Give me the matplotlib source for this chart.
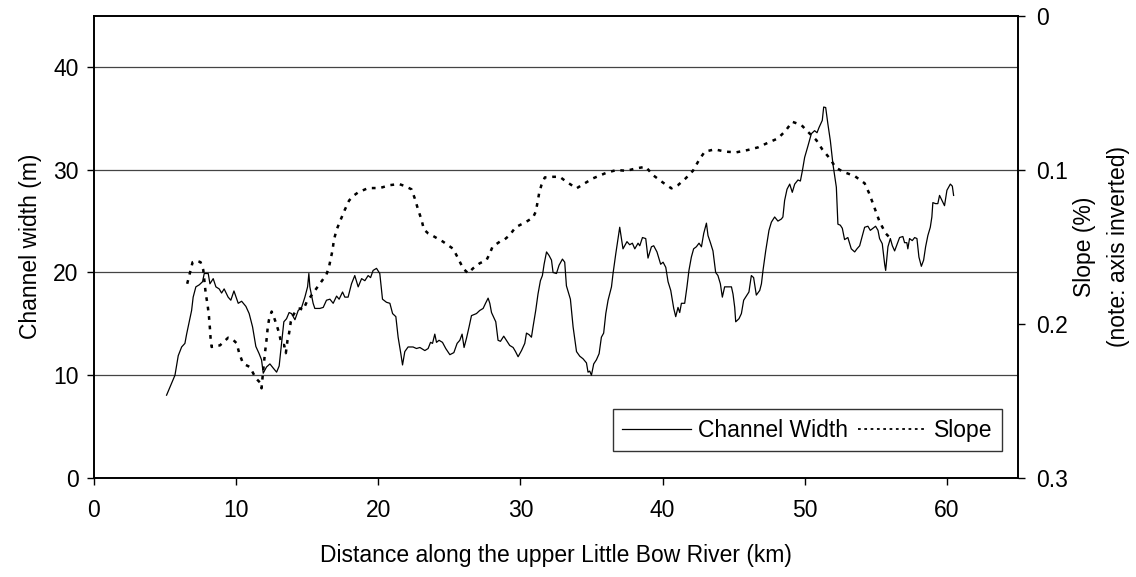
import matplotlib
matplotlib.use("Agg")
import matplotlib.pyplot as plt
from matplotlib.lines import Line2D

plt.rcParams['font.family'] = ['Liberation Sans', 'DejaVu Sans']

# channel width (m) along the river (km)
width_km = [5.11, 5.46, 5.70, 5.93, 6.17, 6.40, 6.52, 6.87, 6.98, 7.17, 7.41, 7.64, 7.76, 8.04,
            8.16, 8.39, 8.58, 8.81, 8.98, 9.16, 9.44, 9.63, 9.85, 10.15, 10.39, 10.69, 10.92,
            11.16, 11.39, 11.62, 11.79, 11.91, 12.14, 12.38, 12.61, 12.85, 13.03, 13.20, 13.36,
            13.55, 13.73, 13.90, 14.14, 14.37, 14.61, 14.84, 15.03, 15.12, 15.19, 15.42, 15.54,
            15.89, 16.13, 16.36, 16.60, 16.83, 17.07, 17.25, 17.49, 17.65, 17.88, 18.12, 18.35,
            18.59, 18.83, 19.06, 19.29, 19.46, 19.64, 19.88, 20.11, 20.30, 20.58, 20.82, 21.01,
            21.24, 21.40, 21.59, 21.71, 21.87, 22.10, 22.45, 22.69, 22.93, 23.28, 23.51, 23.68,
            23.82, 23.98, 24.10, 24.28, 24.52, 24.75, 25.04, 25.32, 25.55, 25.74, 25.90, 26.04,
            26.21, 26.39, 26.56, 26.91, 27.14, 27.38, 27.55, 27.73, 27.85, 27.97, 28.27, 28.43,
            28.60, 28.83, 29.02, 29.25, 29.49, 29.66, 29.84, 30.08, 30.31, 30.43, 30.61, 30.78,
            30.89, 31.08, 31.24, 31.41, 31.55, 31.67, 31.84, 32.02, 32.19, 32.30, 32.54, 32.72,
            32.96, 33.12, 33.24, 33.52, 33.71, 33.95, 34.18, 34.41, 34.65, 34.76, 34.88, 35.00,
            35.16, 35.35, 35.54, 35.70, 35.86, 36.01, 36.17, 36.41, 36.52, 36.71, 36.99, 37.22,
            37.50, 37.69, 37.88, 38.05, 38.28, 38.40, 38.59, 38.82, 38.98, 39.22, 39.38, 39.61,
            39.87, 40.04, 40.23, 40.39, 40.58, 40.79, 40.93, 41.09, 41.21, 41.33, 41.56, 41.72,
            41.86, 42.03, 42.19, 42.38, 42.57, 42.74, 42.90, 43.09, 43.20, 43.37, 43.55, 43.74,
            43.90, 44.07, 44.21, 44.37, 44.61, 44.85, 44.96, 45.08, 45.15, 45.38, 45.55, 45.71,
            45.94, 46.08, 46.25, 46.41, 46.60, 46.84, 46.96, 47.07, 47.26, 47.49, 47.66, 47.89,
            48.12, 48.36, 48.47, 48.59, 48.76, 48.95, 49.13, 49.30, 49.53, 49.70, 49.84, 50.00,
            50.23, 50.47, 50.70, 50.87, 51.01, 51.24, 51.34, 51.48, 51.64, 51.81, 51.99, 52.23,
            52.34, 52.51, 52.65, 52.81, 53.04, 53.28, 53.52, 53.68, 53.87, 54.06, 54.22, 54.45,
            54.62, 54.80, 54.99, 55.16, 55.27, 55.46, 55.63, 55.70, 55.86, 56.03, 56.17, 56.33,
            56.49, 56.68, 56.91, 57.03, 57.19, 57.26, 57.38, 57.57, 57.74, 57.90, 58.04, 58.21,
            58.37, 58.51, 58.67, 58.84, 58.95, 59.02, 59.21, 59.37, 59.49, 59.73, 59.84, 60.01,
            60.25, 60.39, 60.48]
width_m = [8.06, 9.2, 10.0, 11.9, 12.75, 13.1, 14.0, 16.3, 17.6, 18.6, 18.8, 19.1, 19.9, 19.9,
           18.9, 19.4, 18.6, 18.4, 18.0, 18.4, 17.6, 17.3, 18.2, 17.0, 17.2, 16.7, 16.0,
           14.7, 12.8, 12.1, 11.5, 10.2, 10.8, 11.1, 10.7, 10.3, 10.9, 13.1, 15.2,
           15.5, 16.1, 16.0, 15.4, 16.3, 16.6, 17.6, 18.6, 19.9, 18.6, 17.0, 16.5,
           16.5, 16.6, 17.3, 17.4, 17.0, 17.7, 17.4, 18.1, 17.6, 17.6, 18.9, 19.7,
           18.6, 19.4, 19.2, 19.7, 19.5, 20.2, 20.4, 19.9, 17.4, 17.1, 17.0, 16.0,
           15.7, 13.7, 12.1, 11.0, 12.3, 12.75, 12.75, 12.6, 12.7, 12.4, 12.6, 13.2,
           13.1, 14.0, 13.2, 13.4, 13.2, 12.6, 12.0, 12.2, 13.1, 13.4, 14.0, 12.7,
           13.6, 14.7, 15.8, 16.0, 16.3, 16.5, 17.0, 17.5, 17.0, 16.1, 15.2, 13.4,
           13.3, 13.8, 13.4, 12.9, 12.7, 12.3, 11.8, 12.4, 13.1, 14.1, 13.95, 13.7,
           14.7, 16.3, 17.9, 19.2, 19.7, 20.8, 22.0, 21.65, 21.2, 20.0, 19.9, 20.7,
           21.3, 21.0, 18.7, 17.4, 14.7, 12.3, 11.85, 11.6, 11.2, 10.3, 10.4, 10.0,
           11.1, 11.5, 12.1, 13.7, 14.1, 16.0, 17.3, 18.6, 19.9, 21.8, 24.4, 22.3,
           23.0, 22.7, 22.85, 22.3, 22.85, 22.6, 23.4, 23.3, 21.4, 22.5, 22.6, 22.0,
           20.8, 21.0, 20.5, 19.1, 18.25, 16.5, 15.7, 16.6, 16.1, 17.0, 17.0, 18.6,
           20.2, 21.5, 22.3, 22.5, 22.85, 22.5, 23.8, 24.8, 23.6, 22.9, 22.1, 20.0,
           19.7, 18.9, 17.6, 18.6, 18.6, 18.6, 17.9, 16.6, 15.2, 15.5, 16.0, 17.3,
           17.8, 18.1, 19.7, 19.5, 17.8, 18.25, 18.9, 20.2, 22.1, 24.1, 24.9, 25.4,
           25.0, 25.2, 25.4, 27.0, 28.1, 28.6, 27.8, 28.6, 29.0, 28.9, 29.9, 31.2,
           32.3, 33.5, 33.8, 33.6, 34.1, 34.8, 36.1, 36.05, 34.4, 32.8, 30.55, 28.3,
           24.7, 24.6, 24.3, 23.2, 23.4, 22.3, 22.0, 22.3, 22.6, 23.6, 24.4, 24.5,
           24.1, 24.3, 24.5, 24.1, 23.3, 22.8, 20.8, 20.2, 22.5, 23.3, 22.6, 22.1,
           22.7, 23.4, 23.5, 22.9, 22.9, 22.3, 23.3, 23.1, 23.4, 23.3, 21.5, 20.6,
           21.2, 22.5, 23.6, 24.4, 25.4, 26.8, 26.7, 26.7, 27.5, 26.8, 26.5, 28.0,
           28.6, 28.4, 27.5]

# slope (%) along the river (km)
slope_km = [6.56, 6.75, 6.94, 7.22, 7.50, 7.69, 7.86, 8.00, 8.09, 8.16, 8.21, 8.28, 8.58, 8.86,
            9.14, 9.44, 9.75, 10.04, 10.22, 10.46, 10.69, 10.97, 11.39, 11.74, 11.79, 11.91,
            12.03, 12.14, 12.22, 12.31, 12.50, 12.61, 12.80, 13.03, 13.13, 13.27, 13.38, 13.50,
            13.62, 13.73, 13.85, 14.02, 14.25, 14.49, 14.72, 14.96, 15.42, 15.89, 16.36, 16.55,
            16.79, 16.88, 17.07, 17.35, 17.65, 17.95, 18.24, 18.59, 19.29, 20.11, 20.82, 21.47,
            21.87, 22.34, 22.57, 22.81, 23.05, 23.21, 23.51, 23.86, 24.56, 25.27, 25.62, 25.97,
            26.32, 26.67, 27.14, 27.62, 27.85, 28.04, 28.55, 28.90, 29.25, 29.61, 29.84, 30.43,
            30.89, 31.08, 31.17, 31.32, 31.48, 31.72, 32.30, 32.77, 33.24, 33.95, 34.53, 35.11,
            36.05, 36.76, 37.46, 38.16, 38.82, 38.98, 39.33, 40.04, 40.63, 41.09, 41.63, 42.14,
            42.57, 42.97, 43.67, 44.44, 45.20, 46.01, 46.72, 47.42, 48.12, 48.66, 49.13, 49.77,
            50.23, 50.82, 51.24, 51.76, 52.18, 52.69, 53.52, 54.22, 54.52, 54.76, 55.04, 55.27,
            55.70, 55.93]
slope_pct = [0.174, 0.167, 0.160, 0.159, 0.160, 0.165, 0.180, 0.188, 0.195, 0.203, 0.210, 0.215,
             0.214, 0.214, 0.2116, 0.209, 0.210, 0.2126, 0.219, 0.225, 0.2267, 0.228, 0.2353,
             0.2386, 0.2418, 0.230, 0.219, 0.2105, 0.203, 0.1975, 0.192, 0.1943, 0.1993, 0.206,
             0.2105, 0.2137, 0.2137, 0.219, 0.2105, 0.206, 0.1986, 0.1943, 0.191, 0.190, 0.191,
             0.186, 0.180, 0.174, 0.168, 0.1625, 0.152, 0.1456, 0.139, 0.1326, 0.126, 0.120,
             0.117, 0.1147, 0.1119, 0.1119, 0.110, 0.1093, 0.1106, 0.1127, 0.1186, 0.126,
             0.1326, 0.1387, 0.1413, 0.143, 0.1467, 0.1513, 0.1575, 0.164, 0.1672, 0.164,
             0.1607, 0.1586, 0.1543, 0.150, 0.1467, 0.1452, 0.1424, 0.138, 0.1365, 0.1337,
             0.131, 0.1273, 0.123, 0.1153, 0.110, 0.105, 0.1046, 0.1046, 0.1078, 0.1121,
             0.1088, 0.1056, 0.102, 0.1002, 0.1007, 0.0991, 0.0981, 0.0998, 0.1035, 0.1084,
             0.1121, 0.110, 0.1056, 0.1007, 0.0937, 0.0883, 0.0868, 0.0883, 0.0887, 0.0872,
             0.0855, 0.0825, 0.0797, 0.0747, 0.0689, 0.071, 0.0754, 0.0808, 0.0868, 0.0926,
             0.0985, 0.1013, 0.1041, 0.1088, 0.1149, 0.1208, 0.1279, 0.1337, 0.1413, 0.1435]

FS = 16.5

fig = plt.figure(figsize=(11.36, 5.77), dpi=100)
ax = fig.add_axes([0.0827, 0.1716, 0.8133, 0.8014])
ax2 = ax.twinx()

ax.set_xlim(0, 65)
ax.set_ylim(0, 45)
ax.set_xticks(range(0, 61, 10))
ax.set_yticks(range(0, 41, 10))
ax.grid(axis='y', color='#444444', linewidth=0.9)
ax.set_axisbelow(True)

ax.plot(width_km, width_m, color='black', linewidth=0.9)
ax2.plot(slope_km, slope_pct, color='black', linewidth=1.8, linestyle=(0, (1.5, 2.3)))

ax2.set_ylim(0.3, 0)
ax2.set_yticks([0, 0.1, 0.2, 0.3])
ax2.set_yticklabels(['0', '0.1', '0.2', '0.3'])

for a in (ax, ax2):
    for s in a.spines.values():
        s.set_linewidth(1.2)
    a.tick_params(direction='out', length=5, width=1, labelsize=FS)
ax.tick_params(axis='x', pad=10)
ax.tick_params(axis='y', pad=6)
ax2.tick_params(axis='y', pad=8)

ax.set_ylabel('Channel width (m)', fontsize=FS, labelpad=8)
ax2.set_ylabel('Slope (%)\n(note: axis inverted)', fontsize=FS, labelpad=4, linespacing=1.6)
ax.set_xlabel('Distance along the upper Little Bow River (km)', fontsize=FS, labelpad=16)

# legend proxies
h1 = Line2D([], [], color='black', linewidth=0.9)
h2 = Line2D([], [], color='black', linewidth=1.3, linestyle=(0, (1.5, 2.0)))
leg = ax.legend([h1, h2], ['Channel Width', 'Slope'], ncol=2, loc='lower right',
                bbox_to_anchor=(0.983, 0.058), borderaxespad=0, fontsize=FS,
                frameon=True, fancybox=False, edgecolor='black', handlelength=3.0,
                handletextpad=0.3, columnspacing=0.45, borderpad=0.42)
leg.get_frame().set_linewidth(1.0)

fig.savefig('out.png', dpi=100)
